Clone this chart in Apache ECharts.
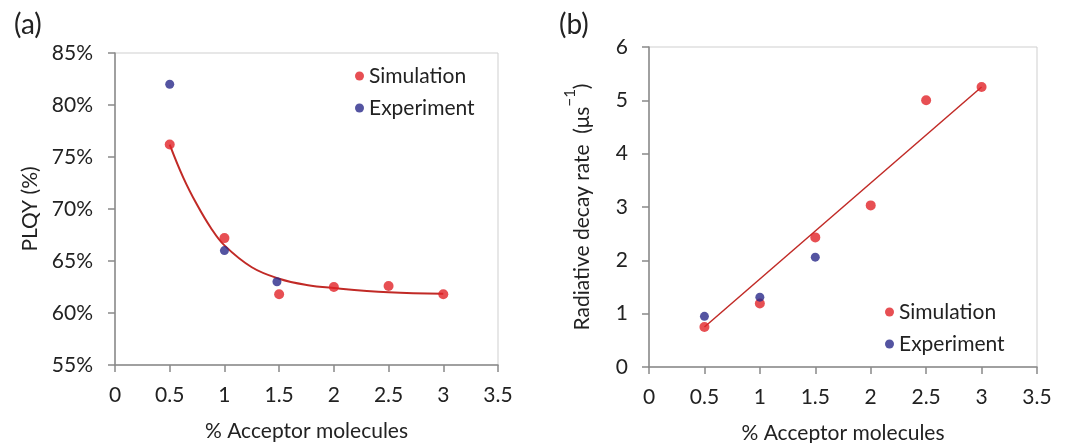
<!DOCTYPE html>
<html>
<head>
<meta charset="utf-8">
<script src="https://cdn.jsdelivr.net/npm/echarts@6/dist/echarts.min.js"></script>
<style>
html, body { margin: 0; padding: 0; background: #fff; }
#main { width: 1067px; height: 443px; }
</style>
</head>
<body>
<div id="main"></div>
<script>
// panel (a): PLQY
var plqySim = [[0.5, 76.2], [1, 67.2], [1.5, 61.8], [2, 62.5], [2.5, 62.6], [3, 61.8]];
var plqyExp = [[0.5, 82.0], [1, 66.0], [1.48, 63.0]];
var plqyFit = [[0.5, 76.2], [0.625, 73.0], [0.75, 70.4], [0.875, 68.2], [1, 66.5], [1.25, 64.4],
    [1.5, 63.3], [1.75, 62.7], [2, 62.4], [2.5, 62.0], [3, 61.85]];

// panel (b): radiative decay rate
var rateSim = [[0.5, 0.75], [1, 1.19], [1.5, 2.43], [2, 3.03], [2.5, 5.0], [3, 5.25]];
var rateExp = [[0.5, 0.95], [1, 1.31], [1.5, 2.06]];
var rateFit = [[0.5, 0.75], [3, 5.25]];

var FONT = 'Lato';
var FS = 21;
var RED = '#e12328';
var BLUE = '#29298a';
var FIT = '#c12a26';
var AXIS = '#898989';

function xAx(gi) {
    return {
        gridIndex: gi, type: 'value', min: 0, max: 3.5, interval: 0.5,
        name: '% Acceptor molecules', nameLocation: 'middle', nameGap: 56,
        nameTextStyle: { fontFamily: FONT, fontSize: FS, color: '#222' },
        axisLine: { lineStyle: { color: AXIS, width: 1.5 } },
        axisTick: { length: 7, lineStyle: { color: AXIS, width: 1.5 } },
        axisLabel: { fontFamily: FONT, fontSize: FS, color: '#222', margin: 20 },
        splitLine: { show: false }
    };
}

function legendAt(left, top) {
    return {
        data: ['Simulation', 'Experiment'], orient: 'vertical', left: left, top: top,
        icon: 'circle', itemWidth: 9, itemHeight: 9, itemGap: 10,
        textStyle: { fontFamily: FONT, fontSize: FS, color: '#222', lineHeight: 22 }
    };
}

var myChart = echarts.init(document.getElementById('main'));
var option = {
    backgroundColor: '#fff',
    animation: false,
    title: [
        { text: '(a)', left: 9, top: 6, textStyle: { fontFamily: FONT, fontSize: 28, fontWeight: 'normal', color: '#222' } },
        { text: '(b)', left: 554, top: 6, textStyle: { fontFamily: FONT, fontSize: 28, fontWeight: 'normal', color: '#222' } }
    ],
    grid: [
        { left: 115, top: 53, width: 383, height: 312, show: true, borderColor: '#cfcfcf', borderWidth: 1, outerBoundsMode: 'none' },
        { left: 649, top: 47, width: 388, height: 320, show: true, borderColor: '#cfcfcf', borderWidth: 1, outerBoundsMode: 'none' }
    ],
    legend: [legendAt(350, 60), legendAt(880, 296)],
    xAxis: [xAx(0), xAx(1)],
    yAxis: [
        {
            gridIndex: 0, type: 'value', min: 55, max: 85, interval: 5,
            name: 'PLQY (%)', nameLocation: 'middle', nameGap: 74,
            nameTextStyle: { fontFamily: FONT, fontSize: FS, color: '#222' },
            axisLine: { show: true, lineStyle: { color: AXIS, width: 1.5 } },
            axisTick: { show: true, length: 7, lineStyle: { color: AXIS, width: 1.5 } },
            axisLabel: { fontFamily: FONT, fontSize: FS, color: '#222', margin: 22, formatter: '{value}%' },
            splitLine: { show: false }
        },
        {
            gridIndex: 1, type: 'value', min: 0, max: 6, interval: 1,
            name: '{t|Radiative decay rate  (\u03bcs}{s|\u22121}{t|)}', nameLocation: 'middle', nameGap: 56,
            nameTextStyle: {
                fontFamily: FONT, fontSize: FS, color: '#222',
                rich: {
                    t: { fontFamily: FONT, fontSize: FS, color: '#222', lineHeight: 30, verticalAlign: 'bottom' },
                    s: { fontFamily: FONT, fontSize: 15, color: '#222', lineHeight: 30, verticalAlign: 'top' }
                }
            },
            axisLine: { show: true, lineStyle: { color: AXIS, width: 1.5 } },
            axisTick: { show: true, length: 7, lineStyle: { color: AXIS, width: 1.5 } },
            axisLabel: { fontFamily: FONT, fontSize: FS, color: '#222', margin: 21 },
            splitLine: { show: false }
        }
    ],
    series: [
        {
            name: 'fitA', type: 'line', xAxisIndex: 0, yAxisIndex: 0, data: plqyFit,
            smooth: 0.4, showSymbol: false, lineStyle: { color: FIT, width: 2 }, z: 2
        },
        {
            name: 'Simulation', type: 'scatter', xAxisIndex: 0, yAxisIndex: 0, data: plqySim,
            symbolSize: 10, itemStyle: { color: RED }, z: 3
        },
        {
            name: 'Experiment', type: 'scatter', xAxisIndex: 0, yAxisIndex: 0, data: plqyExp,
            symbolSize: 9, itemStyle: { color: BLUE }, z: 3
        },
        {
            name: 'fitB', type: 'line', xAxisIndex: 1, yAxisIndex: 1, data: rateFit,
            showSymbol: false, lineStyle: { color: FIT, width: 1.5 }, z: 2
        },
        {
            name: 'Simulation', type: 'scatter', xAxisIndex: 1, yAxisIndex: 1, data: rateSim,
            symbolSize: 10, itemStyle: { color: RED }, z: 3
        },
        {
            name: 'Experiment', type: 'scatter', xAxisIndex: 1, yAxisIndex: 1, data: rateExp,
            symbolSize: 9, itemStyle: { color: BLUE }, z: 3
        }
    ]
};
myChart.setOption(option);
</script>
</body>
</html>
